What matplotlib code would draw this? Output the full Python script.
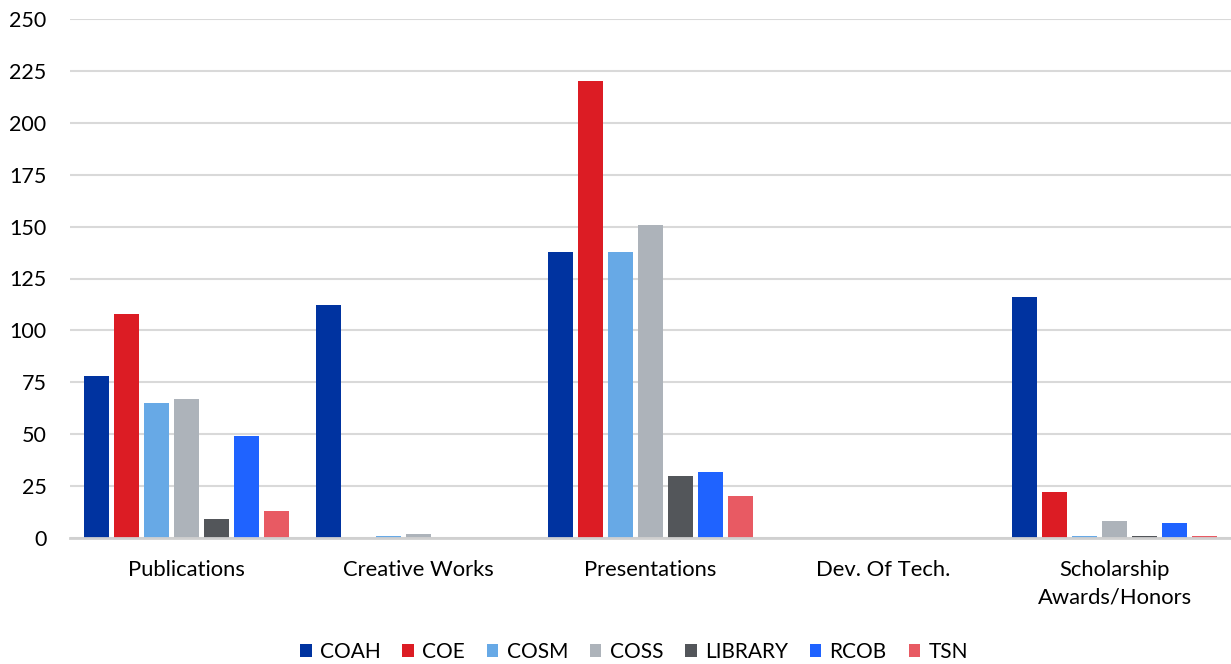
import matplotlib
matplotlib.use("Agg")
import matplotlib.pyplot as plt
import numpy as np

categories = ["Publications", "Creative Works", "Presentations", "Dev. Of Tech.", "Scholarship\nAwards/Honors"]
series_names = ["COAH", "COE", "COSM", "COSS", "LIBRARY", "RCOB", "TSN"]
COAH = [78, 112, 138, 0, 116]
COE = [108, 0, 220, 0, 22]
COSM = [65, 1, 138, 0, 1]
COSS = [67, 2, 151, 0, 8]
LIBRARY = [9, 0, 30, 0, 1]
RCOB = [49, 0, 32, 0, 7]
TSN = [13, 0, 20, 0, 1]
yticks = [0, 25, 50, 75, 100, 125, 150, 175, 200, 225, 250]

series = [COAH, COE, COSM, COSS, LIBRARY, RCOB, TSN]
colors = ["#0033a0", "#dc1c24", "#67a9e6", "#adb3ba", "#53565a", "#1f63ff", "#e85a63"]

plt.rcParams['font.family'] = ['Lato', 'DejaVu Sans']

fig = plt.figure(figsize=(12.31, 6.64), dpi=100)
ax = fig.add_axes([70/1231, 1-538/664, 1-70/1231, (538-19)/664])

x = np.arange(len(categories))
step = 30/232
width = 25/232
for i, (name, vals, c) in enumerate(zip(series_names, series, colors)):
    off = (i - 3) * step
    ax.bar(x + off, vals, width, color=c, label=name, zorder=3)

ax.set_xlim(-0.5, len(categories) - 0.5)
ax.set_ylim(0, 250)
ax.set_yticks(yticks)
ax.set_xticks(x)
ax.set_xticklabels(categories, fontsize=15.8, color="#000000", linespacing=1.45)
ax.tick_params(axis='y', labelsize=15.5, length=0, pad=17)
ax.tick_params(axis='x', length=0, pad=16)
ax.yaxis.grid(True, color="#d9d9d9", linewidth=1.5, zorder=0)
for s in ["top", "right", "left"]:
    ax.spines[s].set_visible(False)
ax.spines["bottom"].set_color("#d0d0d0")
ax.spines["bottom"].set_linewidth(2)
ax.spines["bottom"].set_zorder(4)

leg = fig.legend(loc="lower center", bbox_to_anchor=(0.515, -0.025), ncol=7, frameon=False,
                 fontsize=15, handlelength=0.55, handleheight=0.55, handletextpad=0.4, columnspacing=1.05)

fig.savefig("out.png", dpi=100)
